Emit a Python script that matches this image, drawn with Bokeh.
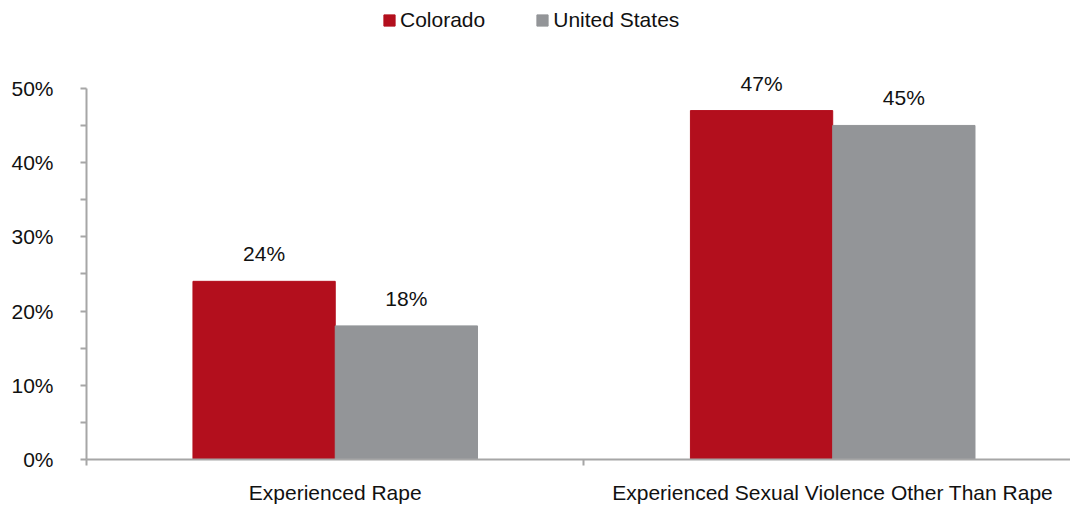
from bokeh.plotting import figure
from bokeh.models import (ColumnDataSource, Range1d, FixedTicker, PrintfTickFormatter,
                          LabelSet, Legend, LegendItem)
from bokeh.core.properties import value
from bokeh.embed import file_html
from bokeh.resources import INLINE

categories = ["Experienced Rape", "Experienced Sexual Violence Other Than Rape"]
colorado = [24, 47]
united_states = [18, 45]
series_names = ["Colorado", "United States"]
y_ticks = [0, 10, 20, 30, 40, 50]
y_minor = [5, 15, 25, 35, 45]

RED = "#B30F1D"
GRAY = "#939598"
AXIS = "#a6a6a6"
FONT = "Liberation Sans"
FS = "21px"
TXT = "#111111"

pos = [i + 0.5 for i in range(len(categories))]
bw = 0.286
src = ColumnDataSource(dict(
    xc=[x - bw / 2 for x in pos],
    xu=[x + bw / 2 for x in pos],
    co=colorado, us=united_states,
    co_lbl=[f"{v}%" for v in colorado],
    us_lbl=[f"{v}%" for v in united_states],
))

p = figure(width=1070, height=506, output_backend="svg", toolbar_location=None,
           x_range=Range1d(0, 1.978), y_range=Range1d(0, 61.83),
           min_border_left=86, min_border_right=0, min_border_top=0,
           min_border_bottom=46)
p.outline_line_color = None
p.xgrid.visible = False
p.ygrid.visible = False

r1 = p.vbar(x="xc", top="co", width=bw, source=src, color=RED)
r2 = p.vbar(x="xu", top="us", width=bw, source=src, color=GRAY)

for col, lab in (("xc", "co"), ("xu", "us")):
    p.add_layout(LabelSet(x=col, y=lab, text=lab + "_lbl", source=src,
                          text_align="center", text_baseline="alphabetic",
                          y_offset=20, text_font=value(FONT), text_font_size=value(FS),
                          text_color=TXT))

# y axis
ya = p.yaxis[0]
ya.bounds = (0, 50)
ya.ticker = FixedTicker(ticks=y_ticks, minor_ticks=y_minor)
ya.formatter = PrintfTickFormatter(format="%d%%")
ya.axis_line_color = AXIS
ya.axis_line_width = 2
ya.major_tick_line_color = AXIS
ya.minor_tick_line_color = AXIS
ya.major_tick_line_width = 2
ya.minor_tick_line_width = 2
ya.major_tick_in = 0
ya.major_tick_out = 6
ya.minor_tick_in = 0
ya.minor_tick_out = 6
ya.major_label_standoff = 27
ya.major_label_text_font = FONT
ya.major_label_text_font_size = FS
ya.major_label_text_color = TXT

# x axis
xa = p.xaxis[0]
xa.ticker = FixedTicker(ticks=pos, minor_ticks=[0, 1, 2])
xa.major_label_overrides = {pos[i]: categories[i] for i in range(len(categories))}
xa.axis_line_color = AXIS
xa.axis_line_width = 2
xa.major_tick_line_color = None
xa.major_tick_out = 0
xa.major_tick_in = 0
xa.minor_tick_line_color = AXIS
xa.minor_tick_line_width = 2
xa.minor_tick_in = 0
xa.minor_tick_out = 6
xa.major_label_standoff = 15
xa.major_label_text_font = FONT
xa.major_label_text_font_size = FS
xa.major_label_text_color = TXT

legend = Legend(items=[LegendItem(label=series_names[0], renderers=[r1]),
                       LegendItem(label=series_names[1], renderers=[r2])],
                orientation="horizontal", location=(296, 427),
                glyph_width=14, glyph_height=14, label_standoff=4, spacing=50,
                padding=0, margin=0, border_line_color=None,
                background_fill_alpha=0,
                label_text_font=FONT, label_text_font_size=FS,
                label_text_color=TXT)
p.add_layout(legend)

open("out.html", "w").write(file_html(p, INLINE))
